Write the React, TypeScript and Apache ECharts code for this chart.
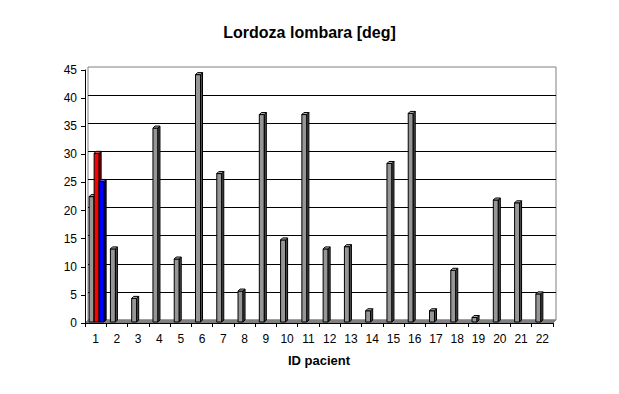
import React, { useEffect, useRef } from "react";
import * as echarts from "echarts";

const categories = ["1","2","3","4","5","6","7","8","9","10","11","12","13","14","15","16","17","18","19","20","21","22"];
const grayValues = [22.3, 13, 4.2, 34.5, 11.2, 44, 26.4, 5.5, 36.9, 14.6, 36.9, 13, 13.4, 2, 28.2, 37.1, 2, 9.2, 0.8, 21.7, 21.2, 5];
const redValues = [30];
const blueValues = [25];
const yTicks = { min: 0, max: 45, interval: 5 };

const GL = 85, GT = 70, GW = 468, GH = 253, DX = 3, DY = 3;
const FONT = "Liberation Sans, Arial, sans-serif";

function makeSeries(values: number[], slot: number, front: string, side: string, topc: string) {
  return {
    type: "custom",
    xAxisIndex: 1,
    yAxisIndex: 1,
    z: 5,
    data: values.map((v, i) => [i, v]),
    encode: { x: 0, y: 1 },
    renderItem: (params: any, api: any) => {
      const cat = api.value(0);
      const v = api.value(1);
      const base = api.coord([cat, 0]);
      const top = api.coord([cat, v]);
      const cw = api.size([1, 0])[0];
      const bw = cw * 0.235;
      const d = 2;
      const x0 = base[0] - 1.5 * bw + slot * bw + 1;
      const yb = base[1] - 1;
      const yt = top[1] - 1;
      const stroke = { stroke: "#000", lineWidth: 1 };
      return {
        type: "group",
        children: [
          { type: "rect", shape: { x: x0, y: yt, width: bw, height: yb - yt }, style: { fill: front, ...stroke } },
          { type: "polygon", shape: { points: [[x0 + bw, yt], [x0 + bw + d, yt - d], [x0 + bw + d, yb - d], [x0 + bw, yb]] }, style: { fill: side, ...stroke } },
          { type: "polygon", shape: { points: [[x0, yt], [x0 + d, yt - d], [x0 + bw + d, yt - d], [x0 + bw, yt]] }, style: { fill: topc, ...stroke } },
        ],
      };
    },
  };
}

export default function App() {
  const ref = useRef<HTMLDivElement>(null);
  useEffect(() => {
    if (!ref.current) return;
    const chart = echarts.init(ref.current, null, { renderer: "svg" });
    chart.setOption({
      animation: false,
      backgroundColor: "#fff",
      title: {
        text: "Lordoza lombara [deg]",
        left: "center",
        top: 19,
        textStyle: { fontFamily: FONT, fontSize: 16, fontWeight: "bold", color: "#000" },
      },
      grid: [
        { left: GL + DX, top: GT - DY, width: GW, height: GH, show: true, borderColor: "#808080", borderWidth: 1, backgroundColor: "transparent" },
        { left: GL, top: GT, width: GW, height: GH },
      ],
      xAxis: [
        { type: "category", gridIndex: 0, data: categories, show: false },
        {
          type: "category",
          gridIndex: 1,
          data: categories,
          z: 10,
          axisLine: { show: true, lineStyle: { color: "#000", width: 1 } },
          axisTick: { show: true, interval: 0, length: 4, lineStyle: { color: "#000" } },
          axisLabel: { interval: 0, margin: 10, fontFamily: FONT, fontSize: 12, color: "#000" },
          splitLine: { show: false },
        },
      ],
      yAxis: [
        {
          type: "value",
          gridIndex: 0,
          ...yTicks,
          axisLine: { show: false },
          axisTick: { show: false },
          axisLabel: { show: false },
          splitLine: { show: true, showMinLine: false, showMaxLine: false, lineStyle: { color: "#000", width: 1 } },
        },
        {
          type: "value",
          gridIndex: 1,
          ...yTicks,
          z: 10,
          axisLine: { show: true, lineStyle: { color: "#000", width: 1 } },
          axisTick: { show: true, length: 4, lineStyle: { color: "#000" } },
          axisLabel: { margin: 8, fontFamily: FONT, fontSize: 12, color: "#000" },
          splitLine: { show: false },
        },
      ],
      graphic: [
        {
          type: "polygon",
          z: 1,
          shape: { points: [[GL, GT + GH], [GL + GW, GT + GH], [GL + GW + DX, GT + GH - DY], [GL + DX, GT + GH - DY]] },
          style: { fill: "#808080", stroke: "#808080" },
        },
        {
          type: "text",
          x: GL + GW / 2,
          y: 360,
          style: { text: "ID pacient", fontFamily: FONT, fontSize: 13, fontWeight: "bold", fill: "#000", align: "center", verticalAlign: "middle" },
        },
      ],
      series: [
        makeSeries(grayValues, 0, "#969696", "#4b4b4b", "#b2b2b2"),
        makeSeries(redValues, 1, "#ff0000", "#800000", "#ff6666"),
        makeSeries(blueValues, 2, "#0000ff", "#000080", "#6666ff"),
      ],
    });
    return () => chart.dispose();
  }, []);
  return <div ref={ref} style={{ position: "fixed", left: 0, top: 0, width: 619, height: 394 }} />;
}
